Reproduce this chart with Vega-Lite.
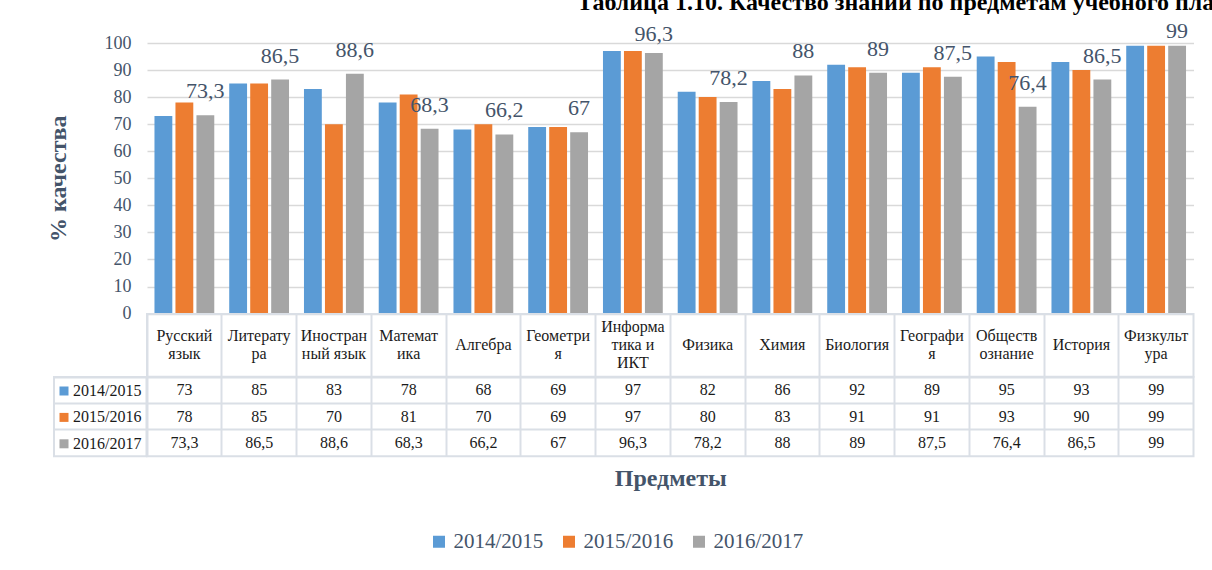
{
  "$schema": "https://vega.github.io/schema/vega-lite/v6.json",
  "padding": {"left": 46, "top": -10, "right": 0, "bottom": 0},
  "background": "white",
  "config": {
    "locale": {"number": {"decimal": ",", "thousands": " ", "grouping": [3], "currency": ["", ""]}},
    "view": {"stroke": null},
    "font": "Liberation Serif"
  },
  "title": {
    "text": "Таблица 1.10. Качество знаний по предметам учебного плана",
    "anchor": "start",
    "frame": "group",
    "dx": 523,
    "offset": 5,
    "fontSize": 24,
    "fontWeight": "bold",
    "color": "#000000",
    "font": "Liberation Serif"
  },
  "datasets": {
    "scores": [
      {"subject": "Русский язык", "series": "2014/2015", "value": 73},
      {"subject": "Литература", "series": "2014/2015", "value": 85},
      {"subject": "Иностранный язык", "series": "2014/2015", "value": 83},
      {"subject": "Математика", "series": "2014/2015", "value": 78},
      {"subject": "Алгебра", "series": "2014/2015", "value": 68},
      {"subject": "Геометрия", "series": "2014/2015", "value": 69},
      {"subject": "Информатика и ИКТ", "series": "2014/2015", "value": 97},
      {"subject": "Физика", "series": "2014/2015", "value": 82},
      {"subject": "Химия", "series": "2014/2015", "value": 86},
      {"subject": "Биология", "series": "2014/2015", "value": 92},
      {"subject": "География", "series": "2014/2015", "value": 89},
      {"subject": "Обществознание", "series": "2014/2015", "value": 95},
      {"subject": "История", "series": "2014/2015", "value": 93},
      {"subject": "Физкультура", "series": "2014/2015", "value": 99},
      {"subject": "Русский язык", "series": "2015/2016", "value": 78},
      {"subject": "Литература", "series": "2015/2016", "value": 85},
      {"subject": "Иностранный язык", "series": "2015/2016", "value": 70},
      {"subject": "Математика", "series": "2015/2016", "value": 81},
      {"subject": "Алгебра", "series": "2015/2016", "value": 70},
      {"subject": "Геометрия", "series": "2015/2016", "value": 69},
      {"subject": "Информатика и ИКТ", "series": "2015/2016", "value": 97},
      {"subject": "Физика", "series": "2015/2016", "value": 80},
      {"subject": "Химия", "series": "2015/2016", "value": 83},
      {"subject": "Биология", "series": "2015/2016", "value": 91},
      {"subject": "География", "series": "2015/2016", "value": 91},
      {"subject": "Обществознание", "series": "2015/2016", "value": 93},
      {"subject": "История", "series": "2015/2016", "value": 90},
      {"subject": "Физкультура", "series": "2015/2016", "value": 99},
      {"subject": "Русский язык", "series": "2016/2017", "value": 73.3},
      {"subject": "Литература", "series": "2016/2017", "value": 86.5},
      {"subject": "Иностранный язык", "series": "2016/2017", "value": 88.6},
      {"subject": "Математика", "series": "2016/2017", "value": 68.3},
      {"subject": "Алгебра", "series": "2016/2017", "value": 66.2},
      {"subject": "Геометрия", "series": "2016/2017", "value": 67},
      {"subject": "Информатика и ИКТ", "series": "2016/2017", "value": 96.3},
      {"subject": "Физика", "series": "2016/2017", "value": 78.2},
      {"subject": "Химия", "series": "2016/2017", "value": 88},
      {"subject": "Биология", "series": "2016/2017", "value": 89},
      {"subject": "География", "series": "2016/2017", "value": 87.5},
      {"subject": "Обществознание", "series": "2016/2017", "value": 76.4},
      {"subject": "История", "series": "2016/2017", "value": 86.5},
      {"subject": "Физкультура", "series": "2016/2017", "value": 99}
    ],
    "subjects": [
      {"subject": "Русский язык", "label": "Русский\nязык"},
      {"subject": "Литература", "label": "Литерату\nра"},
      {"subject": "Иностранный язык", "label": "Иностран\nный язык"},
      {"subject": "Математика", "label": "Математ\nика"},
      {"subject": "Алгебра", "label": "Алгебра"},
      {"subject": "Геометрия", "label": "Геометри\nя"},
      {"subject": "Информатика и ИКТ", "label": "Информа\nтика и\nИКТ"},
      {"subject": "Физика", "label": "Физика"},
      {"subject": "Химия", "label": "Химия"},
      {"subject": "Биология", "label": "Биология"},
      {"subject": "География", "label": "Географи\nя"},
      {"subject": "Обществознание", "label": "Обществ\nознание"},
      {"subject": "История", "label": "История"},
      {"subject": "Физкультура", "label": "Физкульт\nура"}
    ],
    "series": [
      {"series": "2014/2015"},
      {"series": "2015/2016"},
      {"series": "2016/2017"}
    ]
  },
  "bounds": "flush",
  "spacing": 0,
  "columns": 2,
  "resolve": {"scale": {"color": "independent"}, "legend": {"color": "independent"}},
  "concat": [
    {
      "width": 92.5,
      "height": 270.6,
      "data": {"values": [{}]},
      "mark": {"type": "text"},
      "encoding": {"text": {"value": ""}}
    },
    {
      "width": 1046.5,
      "height": 270.6,
      "data": {"name": "scores"},
      "encoding": {
        "x": {"field": "subject", "type": "nominal", "sort": null, "scale": {"type": "band", "paddingInner": 0.2, "paddingOuter": 0.1}, "axis": null},
        "y": {
          "field": "value", "type": "quantitative",
          "scale": {"domain": [0, 100], "nice": false},
          "axis": {
            "values": [0, 10, 20, 30, 40, 50, 60, 70, 80, 90, 100],
            "tickCount": 11,
            "labelOverlap": false,
            "grid": true, "gridColor": "#d9d9d9", "gridWidth": 1.5,
            "domain": false, "ticks": false,
            "labelPadding": 16, "labelFontSize": 18, "labelColor": "#44546a", "labelFont": "Liberation Serif",
            "title": "% качества", "titleFontSize": 24, "titleFontWeight": "bold", "titleColor": "#44546a", "titleFont": "Liberation Serif", "titlePadding": 34
          }
        }
      },
      "layer": [
        {
          "mark": {"type": "bar"},
          "encoding": {
            "xOffset": {"field": "series", "type": "nominal", "scale": {"type": "band", "paddingInner": 0.15, "paddingOuter": 0}},
            "color": {
              "field": "series", "type": "nominal",
              "scale": {"range": ["#5b9bd5", "#ed7d31", "#a5a5a5"]},
              "legend": {
                "orient": "none", "legendX": 281.5, "legendY": 488, "direction": "horizontal", "title": null,
                "symbolType": "square", "symbolSize": 144, "symbolStrokeWidth": 0,
                "labelFontSize": 21, "labelColor": "#44546a", "labelFont": "Liberation Serif",
                "columnPadding": 15, "labelOffset": 4
              }
            }
          }
        },
        {
          "transform": [{"filter": "datum.series === '2016/2017' && datum.value < 95"}],
          "mark": {"type": "text", "dy": -17, "baseline": "alphabetic", "fontSize": 22, "color": "#44546a", "font": "Liberation Serif"},
          "encoding": {
            "xOffset": {"field": "series", "type": "nominal", "scale": {"type": "band"}},
            "text": {"field": "value", "type": "quantitative", "format": ".1~f"}
          }
        },
        {
          "transform": [{"filter": "datum.series === '2016/2017' && datum.value >= 95 && datum.value < 98"}],
          "mark": {"type": "text", "dy": -12, "baseline": "alphabetic", "fontSize": 22, "color": "#44546a", "font": "Liberation Serif"},
          "encoding": {
            "xOffset": {"field": "series", "type": "nominal", "scale": {"type": "band"}},
            "text": {"field": "value", "type": "quantitative", "format": ".1~f"}
          }
        },
        {
          "transform": [{"filter": "datum.series === '2016/2017' && datum.value >= 98"}],
          "mark": {"type": "text", "dy": -8, "baseline": "alphabetic", "fontSize": 22, "color": "#44546a", "font": "Liberation Serif"},
          "encoding": {
            "xOffset": {"field": "series", "type": "nominal", "scale": {"type": "band"}},
            "text": {"field": "value", "type": "quantitative", "format": ".1~f"}
          }
        }
      ]
    },
    {
      "width": 92.5,
      "height": 62.7,
      "data": {"values": [{}]},
      "mark": {"type": "text"},
      "encoding": {"text": {"value": ""}}
    },
    {
      "width": 1046.5,
      "height": 62.7,
      "view": {"stroke": "#dadfe6", "strokeWidth": 2},
      "data": {"name": "subjects"},
      "encoding": {
        "x": {"field": "subject", "type": "nominal", "sort": null,
          "scale": {"type": "band", "paddingInner": 0, "paddingOuter": 0,
            "domain": ["Русский язык", "Литература", "Иностранный язык", "Математика", "Алгебра", "Геометрия", "Информатика и ИКТ", "Физика", "Химия", "Биология", "География", "Обществознание", "История", "Физкультура"]},
          "axis": {"grid": true, "bandPosition": 0, "gridColor": "#dadfe6", "gridWidth": 2, "labels": false, "ticks": false, "domain": false, "title": null}},
        "text": {"field": "label"}
      },
      "layer": [
        {
          "transform": [{"filter": "length(split(datum.label, '\\n')) == 1"}],
          "mark": {"type": "text", "lineBreak": "\n", "fontSize": 16, "lineHeight": 18, "color": "#1a1a1a", "baseline": "middle", "font": "Liberation Serif"}
        },
        {
          "transform": [{"filter": "length(split(datum.label, '\\n')) == 2"}],
          "mark": {"type": "text", "lineBreak": "\n", "fontSize": 16, "lineHeight": 18, "dy": -9, "color": "#1a1a1a", "baseline": "middle", "font": "Liberation Serif"}
        },
        {
          "transform": [{"filter": "length(split(datum.label, '\\n')) == 3"}],
          "mark": {"type": "text", "lineBreak": "\n", "fontSize": 16, "lineHeight": 18, "dy": -18, "color": "#1a1a1a", "baseline": "middle", "font": "Liberation Serif"}
        }
      ]
    },
    {
      "width": 92.5,
      "height": 79.3,
      "view": {"stroke": "#dadfe6", "strokeWidth": 2},
      "data": {"name": "series"},
      "mark": {"type": "text"},
      "encoding": {
        "y": {"field": "series", "type": "nominal", "scale": {"type": "band", "paddingInner": 0, "paddingOuter": 0},
          "axis": {"grid": true, "bandPosition": 0, "gridColor": "#dadfe6", "gridWidth": 2, "labels": false, "ticks": false, "domain": false, "title": null}},
        "color": {
          "field": "series", "type": "nominal",
          "scale": {"range": ["#5b9bd5", "#ed7d31", "#a5a5a5"]},
          "legend": {
            "orient": "none", "legendX": 2, "legendY": 6, "title": null,
            "symbolType": "square", "symbolSize": 81, "symbolStrokeWidth": 0,
            "labelFontSize": 16, "labelColor": "#1a1a1a", "labelFont": "Liberation Serif",
            "rowPadding": 10.4, "labelOffset": 1
          }
        },
        "text": {"value": ""}
      }
    },
    {
      "width": 1046.5,
      "height": 79.3,
      "view": {"stroke": "#dadfe6", "strokeWidth": 2},
      "data": {"name": "scores"},
      "mark": {"type": "text", "fontSize": 16, "color": "#1a1a1a", "baseline": "middle", "font": "Liberation Serif"},
      "encoding": {
        "x": {"field": "subject", "type": "nominal", "sort": null, "scale": {"type": "band", "paddingInner": 0, "paddingOuter": 0},
          "axis": {"grid": true, "bandPosition": 0, "gridColor": "#dadfe6", "gridWidth": 2, "labels": false, "ticks": false, "domain": false,
            "title": "Предметы", "titleFontSize": 24, "titleFontWeight": "bold", "titleColor": "#44546a", "titleFont": "Liberation Serif", "titlePadding": 10}},
        "y": {"field": "series", "type": "nominal", "scale": {"type": "band", "paddingInner": 0, "paddingOuter": 0},
          "axis": {"grid": true, "bandPosition": 0, "gridColor": "#dadfe6", "gridWidth": 2, "labels": false, "ticks": false, "domain": false, "title": null}},
        "text": {"field": "value", "type": "quantitative", "format": ".1~f"}
      }
    }
  ]
}
